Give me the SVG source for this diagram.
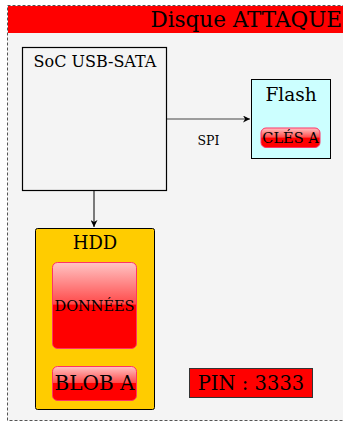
<svg xmlns="http://www.w3.org/2000/svg" width="343" height="422" viewBox="0 0 343 422">
<defs>
<style>
text{font-family:"DejaVu Serif",serif;fill:#000;text-anchor:middle}
.gloss{fill:url(#g);stroke:#ff3366;stroke-width:1}
</style>
<linearGradient id="g" x1="0" y1="0" x2="0" y2="1">
<stop offset="0" stop-color="#ffc4c4"/>
<stop offset="0.48" stop-color="#ff4a4a"/>
<stop offset="0.5" stop-color="#ff0000"/>
<stop offset="1" stop-color="#ff0000"/>
</linearGradient>
<marker id="arr" viewBox="0 0 10 10" refX="10" refY="5" markerWidth="7" markerHeight="7" orient="auto" markerUnits="userSpaceOnUse">
<path d="M0,0 L10,5 L0,10 L3,5 Z" fill="#000"/>
</marker>
</defs>
<rect width="343" height="422" fill="#fff"/>
<g id="container">
<rect x="7.5" y="5.5" width="340" height="415" fill="#f4f4f4" stroke="#555" stroke-dasharray="3,2"/>
<rect x="8" y="6" width="335" height="27" fill="#ff0000"/>
<text x="342" y="27" style="text-anchor:end;font-size:21.5px">Disque ATTAQUE</text>
</g>
<g id="connectors" stroke="#000" fill="none">
<path d="M166,119 H250" stroke="#444" marker-end="url(#arr)"/>
<path d="M94,190 V227" marker-end="url(#arr)"/>
<text x="208.5" y="145" style="font-size:12.5px" stroke="none" fill="#000">SPI</text>
</g>
<g id="soc">
<rect x="22.5" y="47.5" width="144" height="143" fill="#f4f4f4" stroke="#000" stroke-width="1.2"/>
<text x="95" y="66.5" style="font-size:16px">SoC USB-SATA</text>
</g>
<g id="flash">
<rect x="251.5" y="79.5" width="79" height="79" fill="#ccffff" stroke="#000"/>
<text x="291" y="101" style="font-size:18.5px">Flash</text>
<g id="cles">
<rect x="261" y="128" width="59" height="19.5" rx="5" class="gloss"/>
<text x="290.5" y="143.3" style="font-size:14.5px">CLÉS A</text>
</g>
</g>
<g id="hdd">
<rect x="35.5" y="228.5" width="119" height="181" rx="2" fill="#ffcc00" stroke="#000"/>
<text x="95" y="249" style="font-size:18px">HDD</text>
<g id="donnees">
<rect x="52.5" y="262.5" width="84" height="86" rx="5" class="gloss"/>
<text x="94.5" y="310.7" style="font-size:14.5px">DONNÉES</text>
</g>
<g id="blob">
<rect x="52.5" y="366.5" width="84" height="34" rx="5" class="gloss"/>
<text x="94.5" y="390" style="font-size:20px">BLOB A</text>
</g>
</g>
<g id="pin">
<rect x="189.5" y="368.5" width="123" height="29" fill="#ff0000" stroke="#333"/>
<text x="251" y="390" style="font-size:19.5px">PIN : 3333</text>
</g>
</svg>
